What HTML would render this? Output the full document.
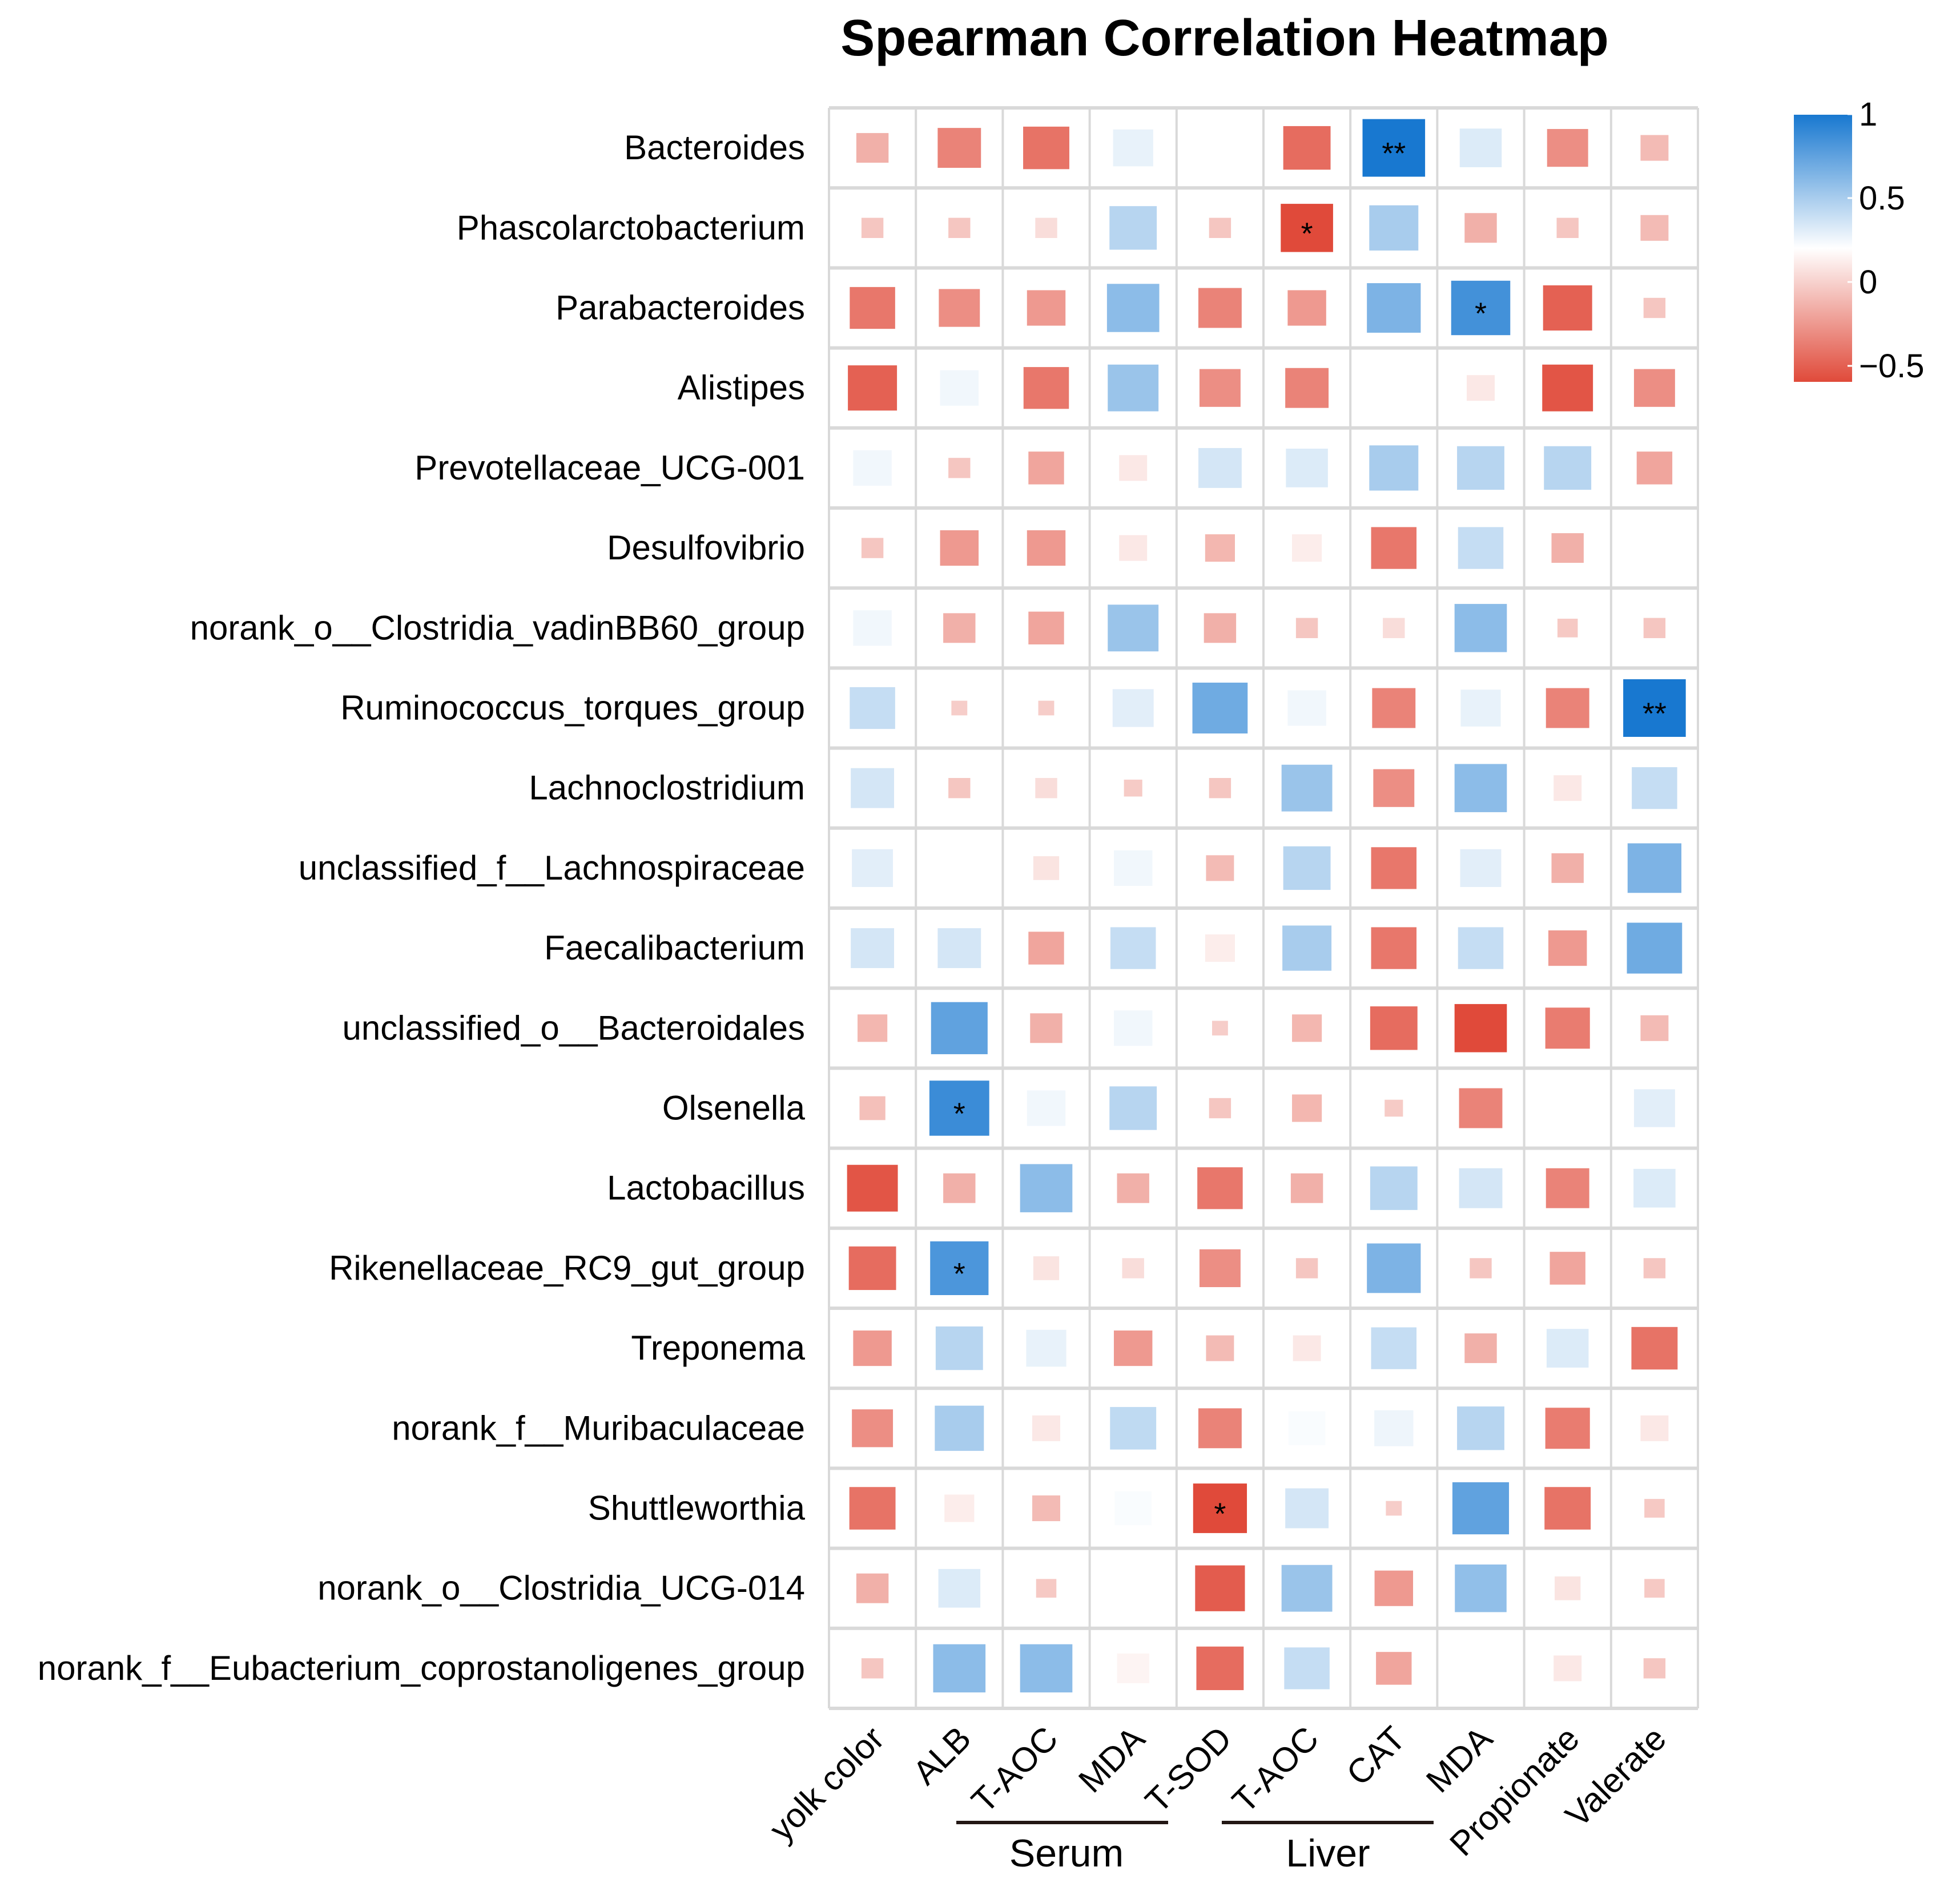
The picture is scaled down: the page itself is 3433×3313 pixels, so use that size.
<!DOCTYPE html>
<html><head><meta charset="utf-8"><style>
html,body{margin:0;padding:0;background:#fff}
svg{display:block;font-family:"Liberation Sans",Arial,sans-serif}
</style></head><body>
<svg id="chart" width="3433" height="3313" viewBox="0 0 3433 3313" xmlns="http://www.w3.org/2000/svg">
<text x="2145" y="97" text-anchor="middle" font-size="90" font-weight="bold" fill="#000">Spearman Correlation Heatmap</text>
<g id="grid"></g>
<g id="cells"></g>
<g id="rowlabels"></g>
<g id="collabels"></g>
<g>
<line x1="1675" y1="3193" x2="2046" y2="3193" stroke="#231815" stroke-width="6"/>
<text x="1868" y="3270" text-anchor="middle" font-size="68" fill="#000">Serum</text>
<line x1="2140" y1="3193" x2="2511" y2="3193" stroke="#231815" stroke-width="6"/>
<text x="2326" y="3270" text-anchor="middle" font-size="68" fill="#000">Liver</text>
</g>
<defs><linearGradient id="cbg" x1="0" y1="0" x2="0" y2="1">
<stop offset="0" stop-color="#1878d0"/><stop offset="0.5" stop-color="#ffffff"/><stop offset="1" stop-color="#e04a3a"/>
</linearGradient></defs>
<g id="colorbar">
<rect x="3142" y="201" width="102" height="468" fill="url(#cbg)"/>
</g>
</svg>
<script>
const rows = ["Bacteroides","Phascolarctobacterium","Parabacteroides","Alistipes","Prevotellaceae_UCG-001","Desulfovibrio","norank_o__Clostridia_vadinBB60_group","Ruminococcus_torques_group","Lachnoclostridium","unclassified_f__Lachnospiraceae","Faecalibacterium","unclassified_o__Bacteroidales","Olsenella","Lactobacillus","Rikenellaceae_RC9_gut_group","Treponema","norank_f__Muribaculaceae","Shuttleworthia","norank_o__Clostridia_UCG-014","norank_f__Eubacterium_coprostanoligenes_group"];
const cols = ["yolk color","ALB","T-AOC","MDA","T-SOD","T-AOC","CAT","MDA","Propionate","Valerate"];
const values = [
[-0.15,-0.35,-0.42,0.28,0.2,-0.45,1.0,0.32,-0.3,-0.1],
[-0.05,-0.05,0.05,0.45,-0.05,-0.6,0.5,-0.15,-0.05,-0.1],
[-0.4,-0.3,-0.25,0.6,-0.35,-0.25,0.65,0.85,-0.5,-0.05],
[-0.5,0.25,-0.4,0.55,-0.3,-0.35,0.2,0.1,-0.55,-0.3],
[0.25,-0.05,-0.2,0.1,0.35,0.32,0.5,0.45,0.45,-0.2],
[-0.05,-0.25,-0.25,0.1,-0.12,0.12,-0.4,0.4,-0.15,0.2],
[0.25,-0.15,-0.2,0.55,-0.15,-0.05,0.05,0.6,-0.04,-0.05],
[0.4,-0.02,-0.02,0.3,0.7,0.25,-0.35,0.28,-0.35,1.0],
[0.35,-0.05,0.05,-0.03,-0.05,0.55,-0.3,0.6,0.1,0.4],
[0.3,0.2,0.08,0.25,-0.1,0.45,-0.4,0.3,-0.15,0.65],
[0.35,0.35,-0.2,0.4,0.12,0.5,-0.4,0.4,-0.25,0.7],
[-0.12,0.75,-0.15,0.25,-0.02,-0.12,-0.45,-0.6,-0.38,-0.1],
[-0.08,0.88,0.25,0.45,-0.05,-0.12,-0.03,-0.35,0.2,0.3],
[-0.55,-0.15,0.6,-0.15,-0.4,-0.15,0.45,0.35,-0.35,0.32],
[-0.45,0.82,0.08,0.05,-0.3,-0.05,0.65,-0.05,-0.2,-0.05],
[-0.25,0.45,0.28,-0.25,-0.1,0.1,0.4,-0.15,0.32,-0.42],
[-0.3,0.5,0.1,0.42,-0.35,0.22,0.26,0.45,-0.38,0.1],
[-0.42,0.12,-0.1,0.22,-0.65,0.35,-0.02,0.75,-0.42,-0.04],
[-0.15,0.32,-0.04,0.2,-0.52,0.55,-0.25,0.58,0.08,-0.04],
[-0.05,0.6,0.6,0.15,-0.45,0.4,-0.2,0.2,0.1,-0.05]];
const stars = [["",0,6,"**"],["",1,5,"*"],["",2,7,"*"],["",7,9,"**"],["",12,1,"*"],["",14,1,"*"],["",17,4,"*"]];
const cbTicks = [1,0.5,0,-0.5];
const cbTickLabels = ["1","0.5","0","\u22120.5"];

const NS="http://www.w3.org/2000/svg";
const GX=1452, GY=189, CW=152.2, RH=140.2, VMIN=-0.6, VMAX=1;
const xC = c => GX + CW*(c+0.5);
const yC = r => GY + RH*(r+0.5);
function mk(tag, attrs, parent){const e=document.createElementNS(NS,tag);for(const k in attrs)e.setAttribute(k,attrs[k]);parent.appendChild(e);return e;}
function lerp(a,b,t){return Math.round(a+(b-a)*t);}
function color(v){
  let t=(v-VMIN)/(VMAX-VMIN); t=Math.max(0,Math.min(1,t));
  const red=[224,74,58], wh=[255,255,255], bl=[24,120,208];
  let c; if(t<0.5){const u=t/0.5;c=[0,1,2].map(i=>lerp(red[i],wh[i],u));} else {const u=(t-0.5)/0.5;c=[0,1,2].map(i=>lerp(wh[i],bl[i],u));}
  return `rgb(${c[0]},${c[1]},${c[2]})`;
}
const grid=document.getElementById('grid');
for(let c=0;c<=cols.length;c++){
  const l=mk('line',{x1:GX+CW*c,y1:GY,x2:GX+CW*c,y2:GY+RH*rows.length,stroke:'#d9d9d9','stroke-width':4},grid);
  
  
}
for(let r=0;r<=rows.length;r++){
  const l=mk('line',{x1:GX,y1:GY+RH*r,x2:GX+CW*cols.length,y2:GY+RH*r,stroke:'#d9d9d9','stroke-width':6},grid);
  
  
}
const cells=document.getElementById('cells');
values.forEach((row,r)=>row.forEach((v,c)=>{
  const f=0.72*Math.pow(Math.abs(v),0.35);
  const w=CW*f, h=RH*f;
  const rc=mk('rect',{x:xC(c)-w/2,y:yC(r)-h/2,width:w,height:h,fill:color(v)},cells);
  
  
}));
stars.forEach(s=>{
  const t=mk('text',{x:xC(s[2]),y:yC(s[1])+28,'text-anchor':'middle','font-size':54,fill:'#000'},cells);
  t.textContent=s[3];
  
  
});
const rl=document.getElementById('rowlabels');
rows.forEach((n,r)=>{
  const t=mk('text',{x:1410,y:yC(r)+20,'text-anchor':'end','font-size':60,fill:'#000'},rl);
  t.textContent=n;
  
  
});
const cl=document.getElementById('collabels');
cols.forEach((n,c)=>{
  const x=xC(c)+24, y=3050;
  const t=mk('text',{x:x,y:y,'text-anchor':'end','font-size':60,fill:'#000',transform:`rotate(-45 ${x} ${y})`},cl);
  t.textContent=n;
  
  
});
const cb=document.getElementById('colorbar');
const cbY = v => 494 - (v)*294;
cbTicks.forEach((v,i)=>{
  const l=mk('line',{x1:3236,y1:cbY(v),x2:3244,y2:cbY(v),stroke:'#fff','stroke-width':3},cb);
  
  
  const t=mk('text',{x:3256,y:cbY(v)+20,'font-size':58,fill:'#000'},cb);
  t.textContent=cbTickLabels[i];
  
  
});
</script>
</body></html>
